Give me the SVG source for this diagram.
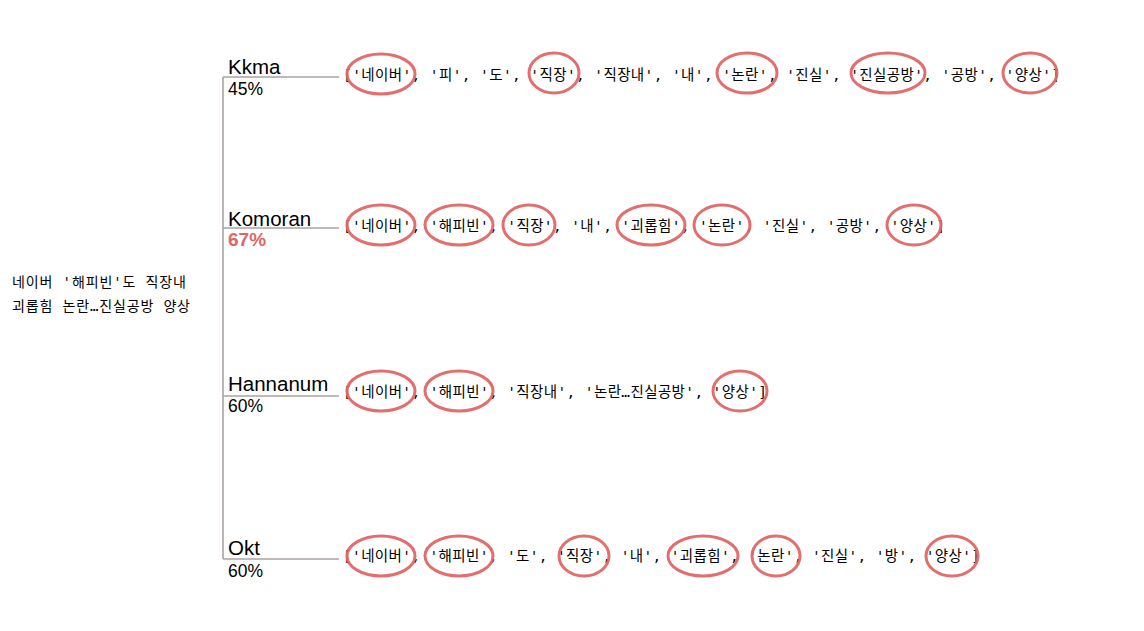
<svg xmlns="http://www.w3.org/2000/svg" width="1144" height="631" viewBox="0 0 1144 631">
<style>
.mono{font-family:"DejaVu Sans Mono","Noto Sans CJK KR",monospace;fill:#000}
.list{font-size:14.5px}
.src{font-size:14px}
.name{font-family:"Liberation Sans",Arial,sans-serif;font-size:20.5px;fill:#000}
.pct{font-family:"Liberation Sans",Arial,sans-serif;font-size:17.5px;fill:#000}
.best{font-weight:bold;fill:#e06666;font-size:19px}
.conn{stroke:#aaa2a2;stroke-width:1.6;fill:none}
.mark{fill:none;stroke:#e06666;stroke-width:3;opacity:0.95}
</style>
<rect width="1144" height="631" fill="#fff"/>
<g id="connectors">
<path class="conn" d="M223 77 V559"/>
<path class="conn" d="M223 77 H339"/>
<path class="conn" d="M223 228 H339"/>
<path class="conn" d="M223 396 H339"/>
<path class="conn" d="M223 559 H339"/>
</g>
<g id="source">
<text class="mono src" x="12" y="287" textLength="174" lengthAdjust="spacing">네이버 '해피빈'도 직장내</text>
<text class="mono src" x="12" y="311" textLength="178" lengthAdjust="spacing">괴롭힘 논란…진실공방 양상</text>
</g>
<g id="kkma">
<text class="name" x="228" y="74">Kkma</text>
<text class="pct" x="228" y="95">45%</text>
<text class="mono list" x="343" y="80" textLength="717" lengthAdjust="spacing">['네이버', '피', '도', '직장', '직장내', '내', '논란', '진실', '진실공방', '공방', '양상']</text>
<ellipse class="mark" cx="381" cy="74" rx="34" ry="20"/>
<ellipse class="mark" cx="554" cy="73" rx="25" ry="20"/>
<ellipse class="mark" cx="747" cy="73" rx="30" ry="20"/>
<ellipse class="mark" cx="888" cy="73" rx="37" ry="20"/>
<ellipse class="mark" cx="1030" cy="73" rx="27" ry="20"/>
</g>
<g id="komoran">
<text class="name" x="228" y="226">Komoran</text>
<text class="pct best" x="228" y="246">67%</text>
<text class="mono list" x="343" y="231" textLength="602" lengthAdjust="spacing">['네이버', '해피빈', '직장', '내', '괴롭힘', '논란', '진실', '공방', '양상']</text>
<ellipse class="mark" cx="381" cy="225" rx="34" ry="20"/>
<ellipse class="mark" cx="459" cy="225" rx="34" ry="20"/>
<ellipse class="mark" cx="529" cy="225" rx="26" ry="20"/>
<ellipse class="mark" cx="651" cy="225" rx="34" ry="20"/>
<ellipse class="mark" cx="722" cy="225" rx="28" ry="20"/>
<ellipse class="mark" cx="914" cy="225" rx="27" ry="20"/>
</g>
<g id="hannanum">
<text class="name" x="228" y="391">Hannanum</text>
<text class="pct" x="228" y="412">60%</text>
<text class="mono list" x="343" y="397" textLength="424" lengthAdjust="spacing">['네이버', '해피빈', '직장내', '논란…진실공방', '양상']</text>
<ellipse class="mark" cx="381" cy="391" rx="34" ry="20"/>
<ellipse class="mark" cx="459" cy="391" rx="34" ry="20"/>
<ellipse class="mark" cx="740" cy="391" rx="27" ry="20"/>
</g>
<g id="okt">
<text class="name" x="228" y="555">Okt</text>
<text class="pct" x="228" y="577">60%</text>
<text class="mono list" x="343" y="561" textLength="637" lengthAdjust="spacing">['네이버', '해피빈', '도', '직장', '내', '괴롭힘', '논란', '진실', '방', '양상']</text>
<ellipse class="mark" cx="381" cy="556" rx="34" ry="20"/>
<ellipse class="mark" cx="459" cy="556" rx="34" ry="20"/>
<ellipse class="mark" cx="584" cy="556" rx="25" ry="20"/>
<ellipse class="mark" cx="703" cy="556" rx="35" ry="20"/>
<ellipse class="mark" cx="776" cy="556" rx="24" ry="20"/>
<ellipse class="mark" cx="952" cy="556" rx="26" ry="20"/>
</g>
</svg>
